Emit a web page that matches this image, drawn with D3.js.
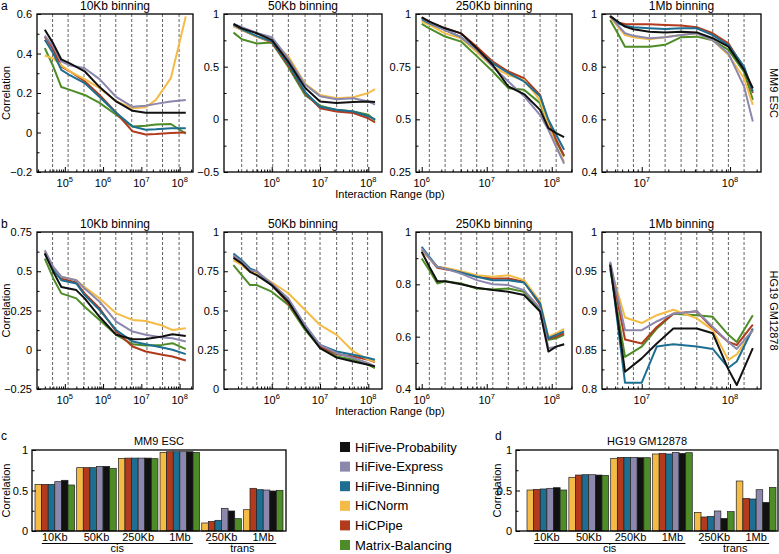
<!DOCTYPE html>
<html>
<head>
<meta charset="utf-8">
<script src="https://cdn.jsdelivr.net/npm/d3@7/dist/d3.min.js"></script>
<style>
body{margin:0;background:#fff;}
svg text{font-family:"Liberation Sans",Arial,Helvetica,sans-serif;fill:#000;}
</style>
</head>
<body>
<svg id="chart" width="779" height="554"></svg>
<script>
// ================= DATA =================
const methods = ["HiFive-Probability","HiFive-Express","HiFive-Binning","HiCNorm","HiCPipe","Matrix-Balancing"];
const methodColors = ["#111111","#8c87ad","#1d6e90","#f5bb47","#b23b1e","#4d8c26"];

// ---- interaction ranges (bp) where the curves were read ----
const xA10  = [30000,50000,81000,135000,330000,810000,2.2e6,5.9e6,1.3e7,2.4e7,5.9e7,1.45e8];
const xA50  = [162000,240000,490000,1.0e6,2.19e6,4.9e6,1.0e7,2.19e7,4.9e7,1.0e8,1.38e8];
const xA250 = [1.0e6,1.31e6,2.29e6,4.03e6,7.02e6,1.24e7,2.15e7,3.75e7,6.62e7,8.89e7,1.17e8,1.55e8];
const xA1M  = [4.39e6,5.35e6,6.47e6,8.05e6,1.22e7,1.84e7,2.79e7,4.2e7,6.37e7,9.57e7,1.44e8,1.81e8];
const xB10  = [30000,50000,81000,200000,330000,810000,2.2e6,5.9e6,1.3e7,3.5e7,6.5e7,1.45e8];
const xB50  = [161000,239000,356000,490000,1.0e6,2.21e6,4.9e6,1.0e7,2.21e7,4.9e7,1.0e8,1.37e8];
const xB250 = [1.0e6,1.31e6,1.74e6,2.29e6,4.03e6,7.02e6,1.24e7,2.15e7,3.75e7,6.62e7,8.89e7,1.17e8,1.55e8];
const xB1M  = [4.39e6,6.47e6,1.0e7,1.48e7,2.28e7,4.2e7,6.37e7,9.57e7,1.19e8,1.81e8];

// ---- correlations; rows in the order of `methods` ----
const yA10 = [
  [0.52,0.45,0.37,0.35,0.31,0.23,0.157,0.11,0.10,0.10,0.10,0.10],
  [0.49,0.435,0.36,0.34,0.325,0.27,0.18,0.13,0.135,0.145,0.157,0.165],
  [0.47,0.40,0.317,0.29,0.25,0.18,0.10,0.03,0.014,0.016,0.022,0.022],
  [0.39,0.375,0.34,0.31,0.27,0.225,0.157,0.123,0.128,0.165,0.275,0.587],
  [0.485,0.42,0.334,0.31,0.26,0.19,0.10,0.006,-0.01,-0.008,-0.002,0.0],
  [0.427,0.334,0.23,0.216,0.19,0.15,0.09,0.03,0.034,0.04,0.043,-0.006]
];
const yA50 = [
  [0.905,0.864,0.817,0.754,0.55,0.30,0.17,0.155,0.165,0.17,0.165],
  [0.905,0.874,0.82,0.78,0.58,0.33,0.22,0.19,0.20,0.17,0.14],
  [0.896,0.855,0.79,0.74,0.53,0.26,0.12,0.09,0.075,0.03,0.0],
  [0.886,0.85,0.785,0.74,0.60,0.34,0.23,0.20,0.21,0.25,0.286],
  [0.886,0.85,0.785,0.73,0.517,0.25,0.106,0.075,0.06,0.01,-0.03],
  [0.823,0.76,0.72,0.73,0.50,0.23,0.13,0.09,0.075,0.044,-0.01]
];
const yA250 = [
  [0.984,0.964,0.932,0.908,0.837,0.758,0.656,0.62,0.545,0.458,0.435,0.416],
  [0.98,0.96,0.924,0.89,0.83,0.75,0.68,0.61,0.52,0.45,0.37,0.29],
  [0.975,0.956,0.924,0.89,0.83,0.766,0.72,0.68,0.61,0.498,0.427,0.356],
  [0.964,0.948,0.908,0.885,0.82,0.75,0.71,0.687,0.59,0.474,0.37,0.30],
  [0.984,0.964,0.932,0.908,0.845,0.774,0.727,0.695,0.616,0.482,0.403,0.327],
  [0.953,0.932,0.893,0.869,0.80,0.727,0.648,0.64,0.577,0.466,0.395,0.324]
];
const yA1M = [
  [0.992,0.971,0.952,0.942,0.933,0.93,0.933,0.93,0.908,0.876,0.788,0.718],
  [0.992,0.958,0.927,0.917,0.908,0.912,0.92,0.927,0.90,0.85,0.725,0.592],
  [0.992,0.965,0.955,0.95,0.946,0.943,0.946,0.946,0.92,0.882,0.80,0.706],
  [0.99,0.952,0.92,0.912,0.904,0.912,0.92,0.927,0.90,0.845,0.756,0.655],
  [0.992,0.967,0.962,0.961,0.961,0.958,0.956,0.95,0.927,0.889,0.794,0.70],
  [0.977,0.927,0.876,0.876,0.876,0.883,0.912,0.914,0.90,0.864,0.78,0.674]
];
const yB10 = [
  [0.613,0.496,0.40,0.38,0.327,0.21,0.095,0.067,0.069,0.084,0.099,0.088],
  [0.634,0.528,0.465,0.443,0.39,0.306,0.179,0.116,0.095,0.078,0.073,0.052],
  [0.613,0.507,0.443,0.422,0.348,0.253,0.126,0.052,0.035,0.014,0.0,-0.028],
  [0.623,0.52,0.465,0.443,0.40,0.327,0.232,0.19,0.183,0.154,0.126,0.137],
  [0.623,0.517,0.454,0.428,0.359,0.264,0.116,0.021,-0.011,-0.032,-0.043,-0.068],
  [0.58,0.454,0.359,0.327,0.274,0.19,0.095,0.035,0.027,0.031,0.042,0.004]
];
const yB50 = [
  [0.835,0.80,0.746,0.725,0.662,0.556,0.387,0.26,0.20,0.175,0.154,0.144],
  [0.852,0.81,0.757,0.75,0.672,0.577,0.408,0.281,0.228,0.197,0.165,0.144],
  [0.863,0.82,0.767,0.75,0.662,0.556,0.397,0.281,0.239,0.218,0.197,0.186],
  [0.82,0.79,0.746,0.736,0.68,0.61,0.503,0.408,0.345,0.239,0.186,0.175],
  [0.846,0.81,0.75,0.74,0.662,0.545,0.397,0.27,0.222,0.207,0.186,0.171],
  [0.789,0.725,0.662,0.662,0.62,0.535,0.376,0.264,0.207,0.186,0.154,0.133]
];
const yB250 = [
  [0.924,0.867,0.812,0.812,0.80,0.787,0.778,0.772,0.759,0.696,0.543,0.562,0.571],
  [0.937,0.90,0.867,0.86,0.841,0.816,0.80,0.797,0.778,0.708,0.556,0.562,0.571],
  [0.943,0.905,0.867,0.86,0.845,0.829,0.816,0.816,0.807,0.727,0.594,0.607,0.62],
  [0.93,0.90,0.867,0.863,0.85,0.835,0.829,0.835,0.816,0.734,0.60,0.613,0.63],
  [0.93,0.90,0.863,0.858,0.848,0.829,0.822,0.822,0.81,0.721,0.592,0.60,0.613],
  [0.899,0.854,0.803,0.812,0.803,0.784,0.78,0.784,0.772,0.702,0.588,0.594,0.607]
];
const yB1M = [
  [0.958,0.822,0.839,0.858,0.877,0.877,0.871,0.825,0.805,0.852],
  [0.962,0.875,0.875,0.886,0.896,0.899,0.879,0.86,0.851,0.875],
  [0.96,0.808,0.808,0.854,0.857,0.854,0.851,0.827,0.835,0.877],
  [0.956,0.891,0.884,0.894,0.901,0.89,0.875,0.837,0.844,0.875],
  [0.96,0.863,0.858,0.879,0.896,0.899,0.877,0.86,0.856,0.882],
  [0.953,0.841,0.854,0.877,0.896,0.894,0.892,0.869,0.86,0.894]
];

// ---- bin boundaries (dashed verticals), bp ----
const v10  = [47900,122000,318000,843000,2.15e6,5.61e6,1.40e7,3.58e7,9.70e7];
const v50  = [239000,490000,1.05e6,2.21e6,4.9e6,1.0e7,2.21e7,4.67e7,9.68e7];
const v250 = [1.31e6,2.29e6,4.03e6,7.02e6,1.24e7,2.15e7,3.75e7,6.62e7,1.17e8];
const v1M  = [5.35e6,8.05e6,1.22e7,1.84e7,2.79e7,4.2e7,6.37e7,9.57e7,1.44e8];

// ---- bar charts ----
const barGroups = ["10Kb","50Kb","250Kb","1Mb","250Kb","1Mb"];
const barMethods = ["HiCNorm","HiCPipe","HiFive-Binning","HiFive-Express","HiFive-Probability","Matrix-Balancing"];
const barsMM9 = [
  [0.576,0.782,0.897,0.971,0.099,0.263],
  [0.576,0.782,0.90,0.979,0.119,0.527],
  [0.576,0.782,0.90,0.979,0.132,0.51],
  [0.609,0.798,0.90,0.979,0.28,0.506],
  [0.626,0.798,0.90,0.979,0.247,0.494],
  [0.568,0.774,0.893,0.971,0.152,0.502]
];
const barsHG19 = [
  [0.506,0.663,0.897,0.951,0.23,0.617],
  [0.514,0.691,0.909,0.959,0.173,0.403],
  [0.519,0.695,0.909,0.951,0.181,0.395],
  [0.527,0.695,0.909,0.971,0.247,0.51],
  [0.535,0.691,0.905,0.959,0.156,0.354],
  [0.506,0.687,0.905,0.967,0.239,0.539]
];

// ================= DRAWING =================
const svg = d3.select("#chart");
const colorOf = m => methodColors[methods.indexOf(m)];
const drawOrder = [5,4,3,2,1,0];
const lefts = [37,224,416,602], rights = [193,382,572,761];
const rows = [
  {top:14, bottom:172, letter:"a", letterY:10, side:"MM9 ESC"},
  {top:232, bottom:389, letter:"b", letterY:228, side:"HG19 GM12878"}
];
const panels = [
  {row:0,col:0,title:"10Kb binning",xs:xA10,ys:yA10,xDom:[18750,2.24e8],yDom:[-0.2,0.6],step:0.2,vl:v10},
  {row:0,col:1,title:"50Kb binning",xs:xA50,ys:yA50,xDom:[102800,1.92e8],yDom:[-0.5,1],step:0.5,vl:v50},
  {row:0,col:2,title:"250Kb binning",xs:xA250,ys:yA250,xDom:[817000,2.05e8],yDom:[0.25,1],step:0.25,vl:v250},
  {row:0,col:3,title:"1Mb binning",xs:xA1M,ys:yA1M,xDom:[3.55e6,2.24e8],yDom:[0.4,1],step:0.2,vl:v1M},
  {row:1,col:0,title:"10Kb binning",xs:xB10,ys:yB10,xDom:[18750,2.24e8],yDom:[-0.25,0.75],step:0.25,vl:v10},
  {row:1,col:1,title:"50Kb binning",xs:xB50,ys:yB50,xDom:[102800,1.92e8],yDom:[0,1],step:0.25,vl:v50},
  {row:1,col:2,title:"250Kb binning",xs:xB250,ys:yB250,xDom:[817000,2.05e8],yDom:[0.4,1],step:0.2,vl:v250},
  {row:1,col:3,title:"1Mb binning",xs:xB1M,ys:yB1M,xDom:[3.55e6,2.24e8],yDom:[0.8,1],step:0.05,vl:v1M}
];
const fmt = d3.format("~g");
const rnd = v => Math.round(v*10000)/10000;

function styleAxis(g){
  g.select(".domain").remove();
  g.selectAll(".tick line").attr("stroke","#000").attr("stroke-width",1);
  g.selectAll(".tick text").attr("font-size",11).attr("fill","#000")
    .style("font-family",'"Liberation Sans",Arial,sans-serif');
}

panels.forEach(p=>{
  const r = rows[p.row];
  const L = lefts[p.col], R = rights[p.col], T = r.top, B = r.bottom;
  const x = d3.scaleLog().domain(p.xDom).range([L,R]);
  const y = d3.scaleLinear().domain(p.yDom).range([B,T]);
  const g = svg.append("g");

  // dashed bin boundaries
  g.selectAll(null).data(p.vl).join("line")
    .attr("x1",d=>x(d)).attr("x2",d=>x(d)).attr("y1",T).attr("y2",B)
    .attr("stroke","#3a3a3a").attr("stroke-width",0.8).attr("stroke-dasharray","3,2");

  // series
  const line = d3.line().x((d,i)=>x(p.xs[i])).y(d=>y(d));
  drawOrder.forEach(k=>{
    g.append("path").attr("d",line(p.ys[k])).attr("fill","none")
      .attr("stroke",methodColors[k]).attr("stroke-width",2)
      .attr("stroke-linejoin","round").attr("stroke-linecap","butt");
  });

  // y axis
  const n = Math.round((p.yDom[1]-p.yDom[0])/p.step);
  const major = d3.range(n+1).map(i=>rnd(p.yDom[0]+i*p.step));
  const minor = d3.range(n).map(i=>rnd(p.yDom[0]+(i+0.5)*p.step));
  g.append("g").attr("transform",`translate(${L},0)`)
    .call(d3.axisLeft(y).tickValues(major).tickSize(-4).tickPadding(5).tickFormat(fmt)).call(styleAxis);
  g.append("g").attr("transform",`translate(${L},0)`)
    .call(d3.axisLeft(y).tickValues(minor).tickSize(-2.5).tickFormat("")).call(styleAxis);

  // x axis (log)
  const lo = Math.ceil(Math.log10(p.xDom[0])), hi = Math.floor(Math.log10(p.xDom[1]));
  const decades = d3.range(lo,hi+1).map(e=>Math.pow(10,e));
  const minorX = [];
  for(let e=lo-1;e<=hi;e++) for(let m=2;m<=9;m++){const v=m*Math.pow(10,e); if(v>p.xDom[0]&&v<p.xDom[1]) minorX.push(v);}
  g.append("g").attr("transform",`translate(0,${B})`)
    .call(d3.axisBottom(x).tickValues(decades).tickSize(-5).tickFormat("")).call(styleAxis);
  g.append("g").attr("transform",`translate(0,${B})`)
    .call(d3.axisBottom(x).tickValues(minorX).tickSize(-2.5).tickFormat("")).call(styleAxis);
  const lab = g.selectAll(null).data(decades).join("text")
    .attr("x",d=>x(d)).attr("y",B+14.5).attr("text-anchor","middle").attr("font-size",11);
  lab.append("tspan").text("10");
  lab.append("tspan").attr("dy",-5).attr("font-size",7.5).text(d=>Math.round(Math.log10(d)));

  // frame
  g.append("rect").attr("x",L).attr("y",T).attr("width",R-L).attr("height",B-T)
    .attr("fill","none").attr("stroke","#000").attr("stroke-width",1.3);

  // title
  g.append("text").attr("x",(L+R)/2).attr("y",T-4).attr("text-anchor","middle")
    .attr("font-size",12).text(p.title);
});

rows.forEach(r=>{
  svg.append("text").attr("x",1).attr("y",r.letterY).attr("font-size",12).text(r.letter);
  svg.append("text").attr("transform",`translate(10,${(r.top+r.bottom)/2}) rotate(-90)`)
    .attr("text-anchor","middle").attr("font-size",11).text("Correlation");
  svg.append("text").attr("transform",`translate(770,${(r.top+r.bottom)/2}) rotate(90)`)
    .attr("text-anchor","middle").attr("font-size",11).text(r.side);
  svg.append("text").attr("x",390).attr("y",r.bottom+25.5).attr("text-anchor","middle")
    .attr("font-size",11).text("Interaction Range (bp)");
});

// ---- bar charts ----
function drawBars(cfg, vals){
  const {L,R,T,B,r0,r1,title,letter,letterX,ylabX} = cfg;
  const g = svg.append("g");
  const x0 = d3.scaleBand().domain(d3.range(barGroups.length)).range([r0,r1]).paddingInner(0.05);
  const x1 = d3.scaleBand().domain(barMethods).range([0,x0.bandwidth()]);
  const y = d3.scaleLinear().domain([0,1]).range([B,T]);
  barMethods.forEach((m,mi)=>{
    g.selectAll(null).data(vals[mi]).join("rect")
      .attr("x",(d,gi)=>x0(gi)+x1(m)).attr("width",x1.bandwidth())
      .attr("y",d=>y(d)).attr("height",d=>y(0)-y(d))
      .attr("fill",colorOf(m)).attr("stroke","#222").attr("stroke-width",0.7);
  });
  g.append("g").attr("transform",`translate(${L},0)`)
    .call(d3.axisLeft(y).tickValues([0,0.5,1]).tickSize(-4).tickPadding(4).tickFormat(fmt)).call(styleAxis);
  g.append("g").attr("transform",`translate(${L},0)`)
    .call(d3.axisLeft(y).tickValues([0.25,0.75]).tickSize(-2.5).tickFormat("")).call(styleAxis);
  g.append("rect").attr("x",L).attr("y",T).attr("width",R-L).attr("height",B-T)
    .attr("fill","none").attr("stroke","#000").attr("stroke-width",1.3);
  g.selectAll(null).data(barGroups).join("text")
    .attr("x",(d,i)=>x0(i)+x0.bandwidth()/2).attr("y",B+10).attr("text-anchor","middle")
    .attr("font-size",11).text(d=>d);
  const c = i=>x0(i)+x0.bandwidth()/2;
  [[0,3,"cis"],[4,5,"trans"]].forEach(([a,b,t])=>{
    g.append("line").attr("x1",c(a)-13).attr("x2",c(b)+13).attr("y1",B+12.5).attr("y2",B+12.5)
      .attr("stroke","#000").attr("stroke-width",1);
    g.append("text").attr("x",(c(a)+c(b))/2).attr("y",B+21).attr("text-anchor","middle")
      .attr("font-size",11).text(t);
  });
  g.append("text").attr("x",(L+R)/2).attr("y",T-5).attr("text-anchor","middle").attr("font-size",11).text(title);
  g.append("text").attr("x",letterX).attr("y",T-10).attr("font-size",12).text(letter);
  g.append("text").attr("transform",`translate(${ylabX},${(T+B)/2}) rotate(-90)`)
    .attr("text-anchor","middle").attr("font-size",11).text("Correlation");
}
drawBars({L:32,R:286,T:450,B:531,r0:35,r1:283,title:"MM9 ESC",letter:"c",letterX:1,ylabX:10}, barsMM9);
drawBars({L:516,R:778,T:450,B:531,r0:527,r1:776,title:"HG19 GM12878",letter:"d",letterX:495,ylabX:501}, barsHG19);

// ---- legend ----
const leg = svg.append("g");
methods.forEach((m,i)=>{
  const cy = 447 + i*19.6;
  leg.append("rect").attr("x",340).attr("y",cy-5).attr("width",10).attr("height",10).attr("fill",methodColors[i]);
  leg.append("text").attr("x",355).attr("y",cy+4.5).attr("font-size",13).text(m);
});
</script>
</body>
</html>
